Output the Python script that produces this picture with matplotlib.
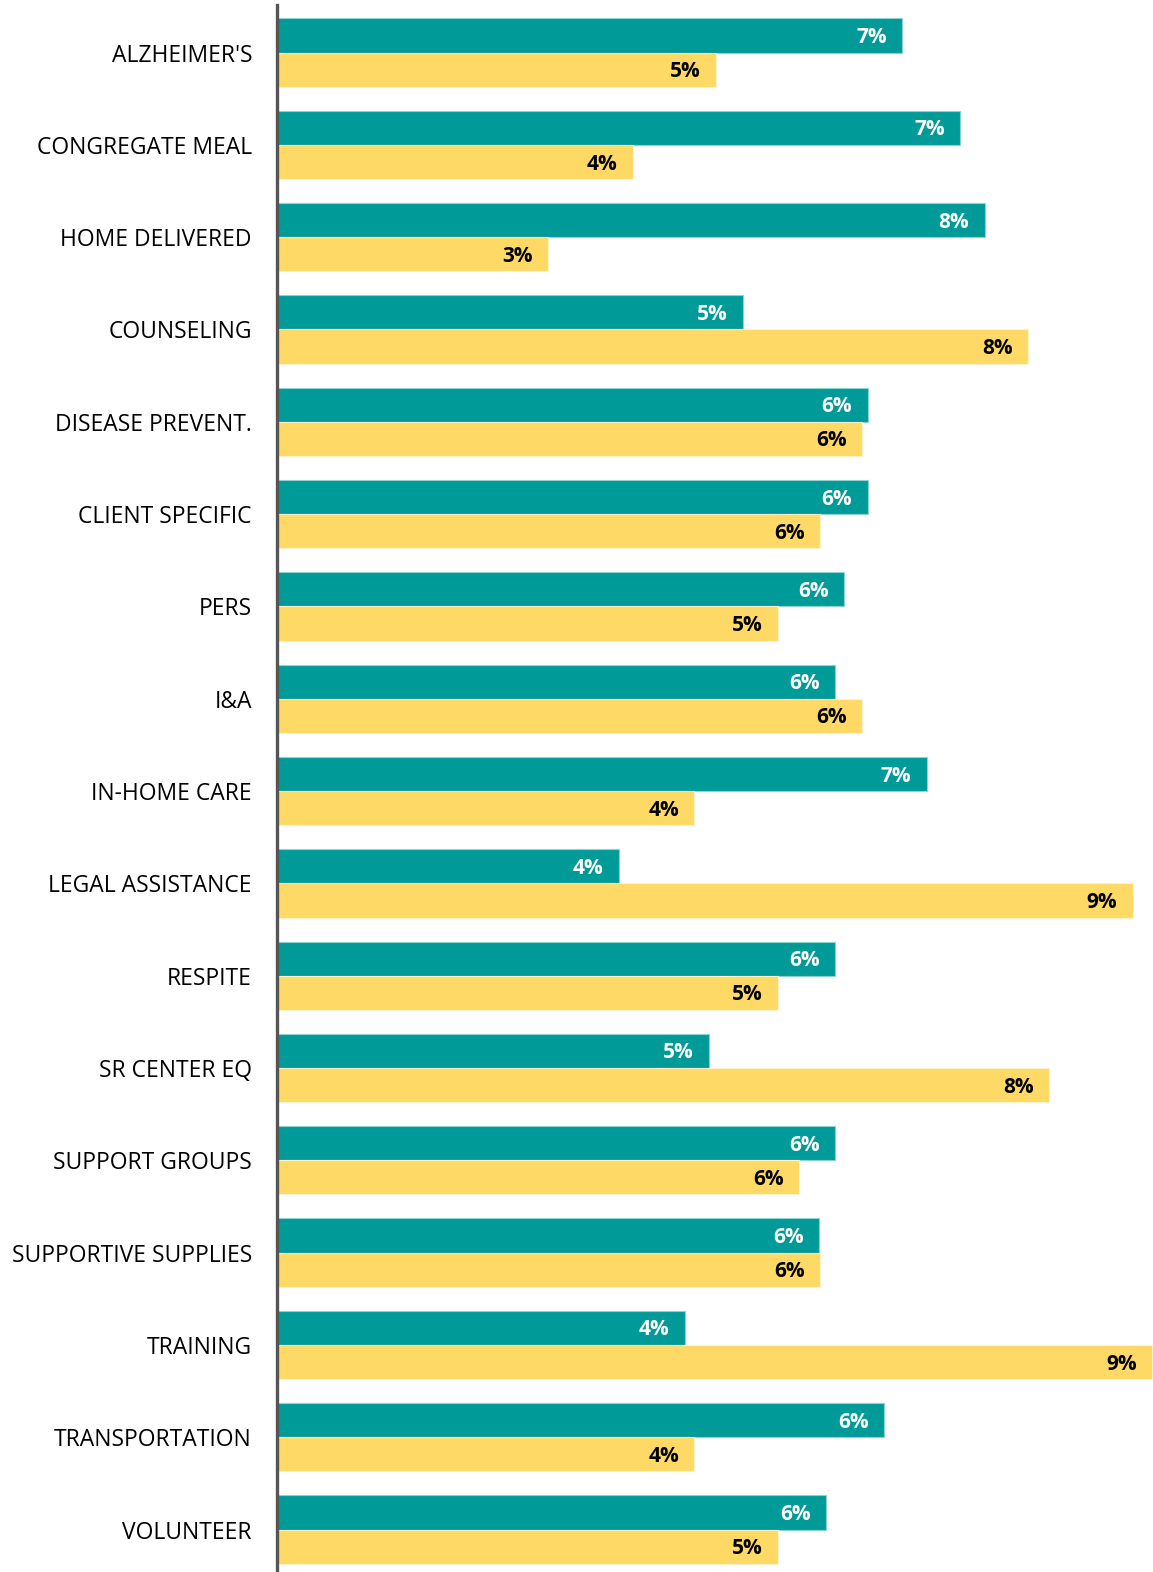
"""Grouped horizontal bar chart of service shares."""

import matplotlib

matplotlib.use("Agg")
import matplotlib.pyplot as plt
import numpy as np

plt.rcParams["font.family"] = ["Open Sans", "DejaVu Sans"]

categories = [
    "ALZHEIMER'S",
    "CONGREGATE MEAL",
    "HOME DELIVERED",
    "COUNSELING",
    "DISEASE PREVENT.",
    "CLIENT SPECIFIC",
    "PERS",
    "I&A",
    "IN-HOME CARE",
    "LEGAL ASSISTANCE",
    "RESPITE",
    "SR CENTER EQ",
    "SUPPORT GROUPS",
    "SUPPORTIVE SUPPLIES",
    "TRAINING",
    "TRANSPORTATION",
    "VOLUNTEER",
]
teal_values = [6.68, 7.30, 7.56, 4.98, 6.31, 6.31, 6.06, 5.96, 6.94,
               3.65, 5.96, 4.62, 5.96, 5.79, 4.36, 6.49, 5.87]
yellow_values = [4.69, 3.80, 2.90, 8.02, 6.25, 5.80, 5.35, 6.25, 4.46,
                 9.14, 5.35, 8.25, 5.58, 5.80, 9.35, 4.46, 5.35]

TEAL = "#009a98"
YELLOW = "#ffd966"

fig = plt.figure(figsize=(11.53, 15.72), dpi=100)
ax = fig.add_axes([277 / 1153, 0.0, 876 / 1153, 1 - 5 / 1572])

y = np.arange(len(categories))
bar_h = 0.37
teal_bars = ax.barh(y - bar_h / 2, teal_values, height=bar_h, color=TEAL,
                    edgecolor="#8fd3d1", linewidth=0.8)
yellow_bars = ax.barh(y + bar_h / 2, yellow_values, height=bar_h,
                      color=YELLOW, edgecolor="#fff3cc", linewidth=0.8)

for bars, values, color in ((teal_bars, teal_values, "white"),
                            (yellow_bars, yellow_values, "black")):
    for bar, value in zip(bars, values):
        ax.annotate(f"{value:.0f}%",
                    xy=(bar.get_width(), bar.get_y() + bar.get_height() / 2),
                    xytext=(-11, -1.5), textcoords="offset points",
                    ha="right", va="center", fontsize=15,
                    fontweight="bold", color=color)

ax.set_xlim(0, 876 / 93.6)
ax.set_ylim(16.46, -0.515)
ax.set_yticks(y)
ax.set_yticklabels(categories, fontsize=16.5)
ax.tick_params(axis="y", length=0, pad=18)
ax.set_xticks([])

for side in ("top", "right", "bottom"):
    ax.spines[side].set_visible(False)
ax.spines["left"].set_color("#555555")
ax.spines["left"].set_linewidth(2.4)

fig.savefig("out.png", dpi=100)
